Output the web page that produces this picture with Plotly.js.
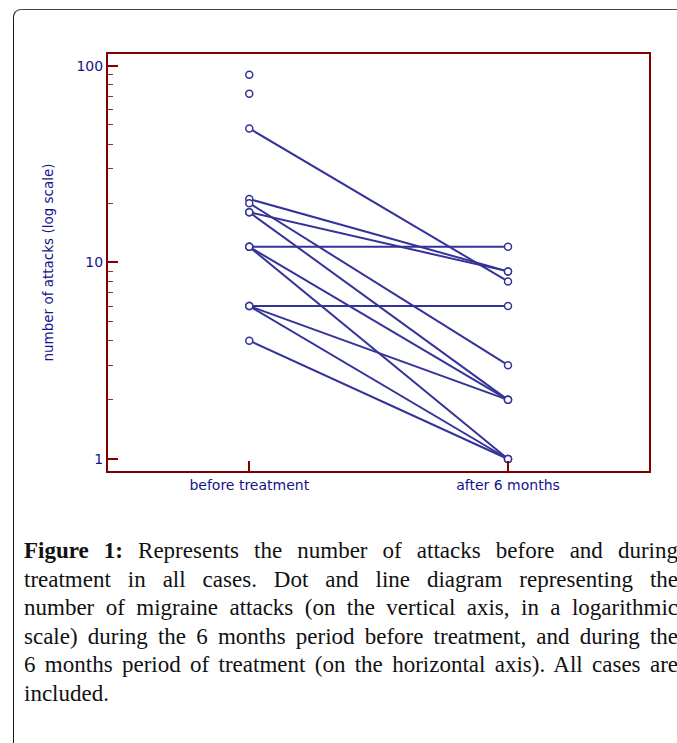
<!DOCTYPE html>
<html>
<head>
<meta charset="utf-8">
<script src="https://cdn.plot.ly/plotly-3.0.1.min.js"></script>
<style>
html,body{margin:0;padding:0;background:#fff;width:677px;height:743px;overflow:hidden;}
#frame{position:absolute;left:13px;top:9px;width:720px;height:780px;border-left:1.5px solid #1a1a1a;border-top:1.5px solid #444;border-top-left-radius:8px;box-sizing:border-box;}
#chart{position:absolute;left:0;top:0;width:677px;height:743px;}
#caption{position:absolute;left:24px;top:537px;width:654px;font-family:"Liberation Serif","Times New Roman",serif;font-size:23px;line-height:28.5px;color:#111;}
#caption span{display:block;text-align:justify;text-align-last:justify;white-space:nowrap;}
#caption span.last{text-align-last:left;}
#caption b{font-weight:bold;}
</style>
</head>
<body>
<div id="frame"></div>
<div id="chart"></div>
<div id="caption">
<span><b>Figure 1:</b> Represents the number of attacks before and during</span>
<span>treatment in all cases. Dot and line diagram representing the</span>
<span>number of migraine attacks (on the vertical axis, in a logarithmic</span>
<span>scale) during the 6 months period before treatment, and during the</span>
<span>6 months period of treatment (on the horizontal axis). All cases are</span>
<span class="last">included.</span>
</div>
<script>
const categories = ["before treatment", "after 6 months"];
const before = [90, 72, 48, 21, 20, 18, 18, 12, 12, 12, 6, 6, 6, 4];
const after  = [null, null, 8, 9, 3, 9, 2, 12, 2, 1, 6, 2, 1, 1];
const yTickVals = [1, 10, 100];
const yTickText = ["1", "10", "100"];
const yMinorVals = [2, 3, 4, 5, 6, 7, 8, 9, 20, 30, 40, 50, 60, 70, 80, 90];

const lineX = [], lineY = [], ptX = [], ptY = [];
for (let i = 0; i < before.length; i++) {
  ptX.push(0); ptY.push(before[i]);
  if (after[i] !== null) {
    lineX.push(0, 1, null);
    lineY.push(before[i], after[i], null);
    ptX.push(1); ptY.push(after[i]);
  }
}

const blue = "rgb(51,51,153)";
const red = "#800000";
const navy = "#14148c";
const font = "DejaVu Sans, sans-serif";

const traces = [
  {x: lineX, y: lineY, type: "scatter", mode: "lines",
   line: {color: blue, width: 2}, hoverinfo: "skip", showlegend: false},
  {x: ptX, y: ptY, type: "scatter", mode: "markers",
   marker: {symbol: "circle", size: 7, color: "#fff", line: {color: blue, width: 1.5}},
   showlegend: false, cliponaxis: false}
];

const layout = {
  width: 677, height: 743,
  margin: {l: 108, r: 28, t: 54, b: 272, pad: 0},
  paper_bgcolor: "rgba(0,0,0,0)",
  plot_bgcolor: "#fff",
  showlegend: false,
  xaxis: {
    range: [-0.546, 1.545], tickvals: [0, 1], ticktext: categories,
    ticks: "inside", ticklen: 10, tickwidth: 2, tickcolor: red,
    showline: true, linecolor: red, linewidth: 2, mirror: true,
    showgrid: false, zeroline: false,
    tickfont: {family: font, size: 14, color: navy}
  },
  yaxis: {
    type: "log", range: [-0.061, 2.060],
    tickvals: yTickVals, ticktext: yTickText,
    ticks: "inside", ticklen: 10, tickwidth: 2, tickcolor: red,
    minor: {tickmode: "array", tickvals: yMinorVals, ticks: "inside", ticklen: 5, tickwidth: 1, tickcolor: "#9a2a2a", showgrid: false},
    showline: true, linecolor: red, linewidth: 2, mirror: true,
    showgrid: false, zeroline: false,
    tickfont: {family: font, size: 14, color: navy},
    title: {text: "number of attacks (log scale)", font: {family: font, size: 13.5, color: navy}, standoff: 20}
  }
};

Plotly.newPlot("chart", traces, layout, {displayModeBar: false, staticPlot: true});
</script>
</body>
</html>
